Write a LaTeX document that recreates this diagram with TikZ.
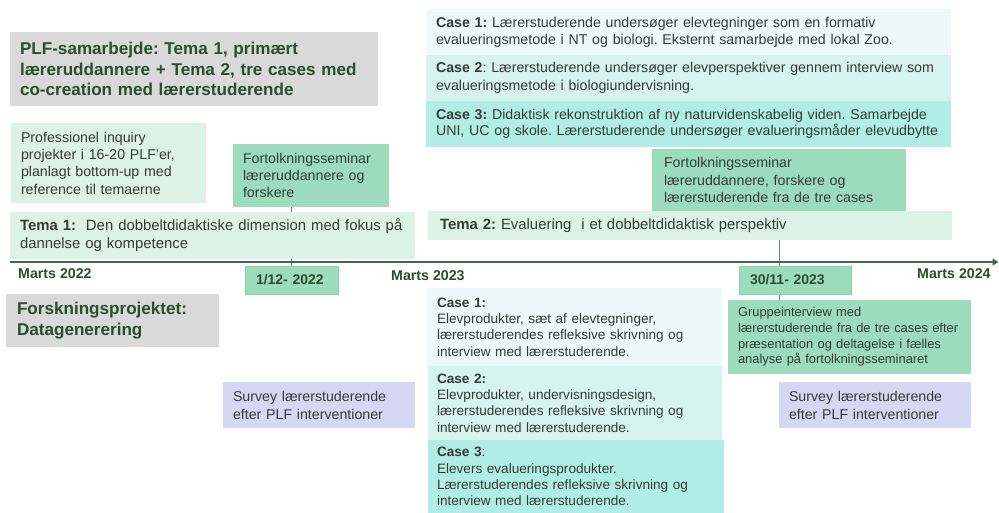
\documentclass[tikz,border=0pt]{standalone}
\usepackage{fontspec}
\setmainfont{Liberation Sans}
\usetikzlibrary{arrows.meta,backgrounds}
\frenchspacing

\definecolor{greyband}{HTML}{D9D9D9}
\definecolor{mint}{HTML}{DDF2E6}
\definecolor{seagreen}{HTML}{9CDBBB}
\definecolor{seaedge}{HTML}{84D6A6}
\definecolor{caseA}{HTML}{EEF8F8}
\definecolor{caseB}{HTML}{D7F3EE}
\definecolor{caseC}{HTML}{B2EDE5}
\definecolor{lavender}{HTML}{D5D8F2}
\definecolor{headgreen}{HTML}{2B4D30}
\definecolor{bodytext}{HTML}{333D36}
\definecolor{axisgreen}{HTML}{3B6B4E}

\tikzset{
  % size of a box: width and height in pt, text width follows from the padding
  boxsize/.code 2 args={%
    \pgfmathsetmacro\bxw{#1}\pgfmathsetmacro\bxt{#1-20}%
    \edef\bxtmp{\noexpand\tikzset{minimum width=\bxw pt, text width=\bxt pt, minimum height=#2pt}}\bxtmp},
  panel/.style={anchor=north west, inner xsep=10pt, inner ysep=0pt, outer sep=0pt,
    align=left, text=bodytext, font=\fontsize{14.2}{17.3}\selectfont},
  heading/.style={panel, fill=greyband, text=headgreen,
    font=\fontsize{17.1}{20.6}\selectfont\bfseries},
  themebar/.style={panel, fill=mint, font=\fontsize{14.9}{18}\selectfont},
  datebox/.style={panel, fill=seagreen, draw=seaedge, line width=0.8pt,
    text=headgreen, font=\fontsize{14}{17}\selectfont\bfseries},
  monthlabel/.style={anchor=west, inner sep=0pt, text=headgreen,
    font=\fontsize{14.2}{17}\selectfont\bfseries},
  link/.style={draw=axisgreen!80, line width=1pt}
}

\begin{document}
\begin{tikzpicture}[x=1pt,y=-1pt]
\useasboundingbox (0,0) rectangle (999,513);

% ---- upper half: PLF collaboration ----
\node[heading, boxsize={368}{74}] (plf) at (10,32)
  {PLF-samarbejde: Tema 1, primært\\læreruddannere + Tema 2, tre cases med\\co-creation med lærerstuderende};

\node[panel, fill=mint, boxsize={195}{80}] (inquiry) at (11,123)
  {Professionel inquiry\\projekter i 16-20 PLF'er,\\planlagt bottom-up med\\reference til temaerne};

\node[panel, fill=seagreen, boxsize={156}{63}] (seminarA) at (233,144)
  {Fortolkningsseminar\\læreruddannere og\\forskere};

\node[themebar, boxsize={405}{47}, inner xsep=10pt, text width=385pt] (temaA) at (10,212)
  {\textbf{Tema 1:}\ \ Den dobbeltdidaktiske dimension med fokus på\\dannelse og kompetence};

\node[panel, fill=caseA, boxsize={525}{46}, font=\fontsize{14.2}{16.7}\selectfont] (topcaseA) at (426,9)
  {\textbf{Case 1:} Lærerstuderende undersøger elevtegninger som en formativ\\evalueringsmetode i NT og biologi. Eksternt samarbejde med lokal Zoo.};
\node[panel, fill=caseB, boxsize={525}{46}, font=\fontsize{14.2}{17.5}\selectfont] (topcaseB) at (426,55)
  {\textbf{Case 2}: Lærerstuderende undersøger elevperspektiver gennem interview som\\evalueringsmetode i biologiundervisning.};
\node[panel, fill=caseC, boxsize={525}{46}, font=\fontsize{14.2}{16.5}\selectfont] (topcaseC) at (426,101)
  {\textbf{Case 3:} Didaktisk rekonstruktion af ny naturvidenskabelig viden. Samarbejde\\UNI, UC og skole. Lærerstuderende undersøger evalueringsmåder elevudbytte};

\node[panel, fill=seagreen, boxsize={254}{62}, inner xsep=12pt, text width=230pt] (seminarB) at (652,149)
  {Fortolkningsseminar\\læreruddannere, forskere og\\lærerstuderende fra de tre cases};

\node[themebar, boxsize={524}{29}, inner xsep=12pt, text width=500pt] (temaB) at (428,211)
  {\textbf{Tema 2:} Evaluering\ \ i et dobbeltdidaktisk perspektiv};

% ---- time axis ----
\coordinate (axisL) at (10,262);
\coordinate (axisR) at (998.5,262);
\draw[axisgreen, line width=1.8pt, -{Triangle[length=6pt,width=7pt]}] (axisL) -- (axisR);

\node[monthlabel] (m22) at (18,274) {Marts 2022};
\node[monthlabel] (m23) at (391,276) {Marts 2023};
\node[monthlabel] (m24) at (917,274) {Marts 2024};

\node[datebox, boxsize={91}{28}, inner xsep=11pt] (dateA) at (245,266) {1/12- 2022};
\node[datebox, boxsize={110}{28}, inner xsep=11pt] (dateB) at (739,266) {30/11- 2023};

% ---- lower half: research project ----
\node[heading, boxsize={213}{53}, inner xsep=11pt, text width=191pt] (forsk) at (6,294)
  {Forskningsprojektet:\\Datagenerering};

\node[panel, fill=lavender, boxsize={192}{46}, font=\fontsize{14.2}{18}\selectfont] (surveyA) at (223,382)
  {Survey lærerstuderende\\efter PLF interventioner};

\node[panel, fill=caseA, boxsize={296}{78}, inner xsep=11pt, text width=274pt, font=\fontsize{13.6}{16.3}\selectfont] (caseA) at (426,288)
  {\textbf{Case 1:}\\Elevprodukter, sæt af elevtegninger,\\lærerstuderendes refleksive skrivning og\\interview med lærerstuderende.};
\node[panel, fill=caseB, boxsize={294}{74}, inner xsep=9pt, text width=276pt, font=\fontsize{13.6}{16.3}\selectfont] (caseB) at (428,366)
  {\textbf{Case 2:}\\Elevprodukter, undervisningsdesign,\\lærerstuderendes refleksive skrivning og\\interview med lærerstuderende.};
\node[panel, fill=caseC, boxsize={296}{73}, inner xsep=9pt, text width=278pt, font=\fontsize{13.6}{16.3}\selectfont] (caseC) at (428,440)
  {\textbf{Case 3}:\\Elevers evalueringsprodukter.\\Lærerstuderendes refleksive skrivning og\\interview med lærerstuderende.};

\node[panel, fill=seagreen, boxsize={243}{74}, font=\fontsize{12.9}{15.7}\selectfont] (group) at (728,300)
  {Gruppeinterview med\\lærerstuderende fra de tre cases efter\\præsentation og deltagelse i fælles\\analyse på fortolkningsseminaret};

\node[panel, fill=lavender, boxsize={192}{46}, font=\fontsize{14.2}{18}\selectfont] (surveyB) at (779,382)
  {Survey lærerstuderende\\efter PLF interventioner};

% ---- links from seminars through the themes to the dates ----
\begin{scope}[on background layer]
  \draw[link] (dateA.north) -- (dateA.north |- seminarA.south);
  \draw[link] (seminarB.south) -- (seminarB.south |- group.north);
\end{scope}
\end{tikzpicture}
\end{document}
